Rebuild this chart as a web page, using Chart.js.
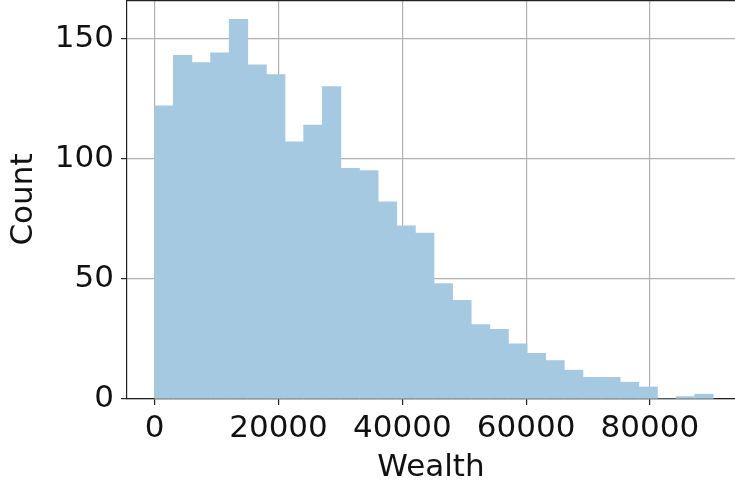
<!DOCTYPE html>
<html>
<head>
<meta charset="utf-8">
<script src="https://cdn.jsdelivr.net/npm/chart.js@4/dist/chart.umd.min.js"></script>
<style>
  html, body { margin: 0; padding: 0; background: #fff; overflow: hidden; }
  #wrap { width: 735px; height: 488px; }
</style>
</head>
<body>
<div id="wrap"><canvas id="hist"></canvas></div>
<script>
// histogram: 30 bins from 0 to ~90240
const wealthMax = 90240;
const binCount = 30;
const counts = [122, 143, 140, 144, 158, 139, 135, 107, 114, 130,
                96, 95, 82, 72, 69, 48, 41, 31, 29, 23,
                19, 16, 12, 9, 9, 7, 5, 0, 1, 2];
const xTicks = [0, 20000, 40000, 60000, 80000];
const yTicks = [0, 50, 100, 150];

const binWidth = wealthMax / binCount;
const points = counts.map((c, i) => ({ x: binWidth * (i + 0.5), y: c }));

Chart.defaults.font.family = "'DejaVu Sans', sans-serif";
Chart.defaults.font.size = 31;
Chart.defaults.color = '#111';

const spineColor = '#222';
const gridColor = '#b0b0b0';

const topSpine = {
    id: 'topSpine',
    afterDraw(chart) {
        const a = chart.chartArea;
        const c = chart.ctx;
        c.save();
        c.strokeStyle = spineColor;
        c.lineWidth = 1.2;
        c.beginPath();
        c.moveTo(a.left, a.top + 0.6);
        c.lineTo(a.right, a.top + 0.6);
        c.stroke();
        c.restore();
    }
};

function noPad(s) {
    s.paddingTop = 0;
    s.paddingBottom = 0;
    s.paddingLeft = 0;
    s.paddingRight = 0;
}

new Chart(document.getElementById('hist'), {
    type: 'bar',
    data: {
        datasets: [{
            data: points,
            backgroundColor: 'rgb(165,201,225)',
            borderWidth: 0,
            barPercentage: 1,
            categoryPercentage: 1
        }]
    },
    options: {
        responsive: true,
        maintainAspectRatio: false,
        animation: false,
        layout: { padding: 0 },
        plugins: {
            legend: { display: false },
            tooltip: { enabled: false }
        },
        scales: {
            x: {
                type: 'linear',
                offset: false,
                z: 1,
                min: -4475,
                max: 93748,
                afterBuildTicks: s => { s.ticks = xTicks.map(v => ({ value: v })); },
                afterFit: s => { s.height = 89; noPad(s); },
                ticks: {
                    padding: 5,
                    maxRotation: 0,
                    autoSkip: false,
                    callback: v => String(v)
                },
                grid: {
                    offset: false,
                    color: gridColor,
                    lineWidth: 1.2,
                    tickColor: spineColor,
                    tickLength: 6,
                    tickWidth: 1.2
                },
                border: { color: spineColor, width: 1.2 },
                title: {
                    display: true,
                    text: 'Wealth',
                    padding: { top: 0, bottom: 1 }
                }
            },
            y: {
                z: 1,
                min: 0,
                max: 166,
                afterBuildTicks: s => { s.ticks = yTicks.map(v => ({ value: v })); },
                afterFit: s => { s.width = 127; noPad(s); },
                ticks: { padding: 7 },
                grid: {
                    color: gridColor,
                    lineWidth: 1.2,
                    tickColor: spineColor,
                    tickLength: 6,
                    tickWidth: 1.2
                },
                border: { color: spineColor, width: 1.2 },
                title: {
                    display: true,
                    text: 'Count',
                    padding: { top: 5, bottom: 0 }
                }
            }
        }
    },
    plugins: [topSpine]
});
</script>
</body>
</html>
